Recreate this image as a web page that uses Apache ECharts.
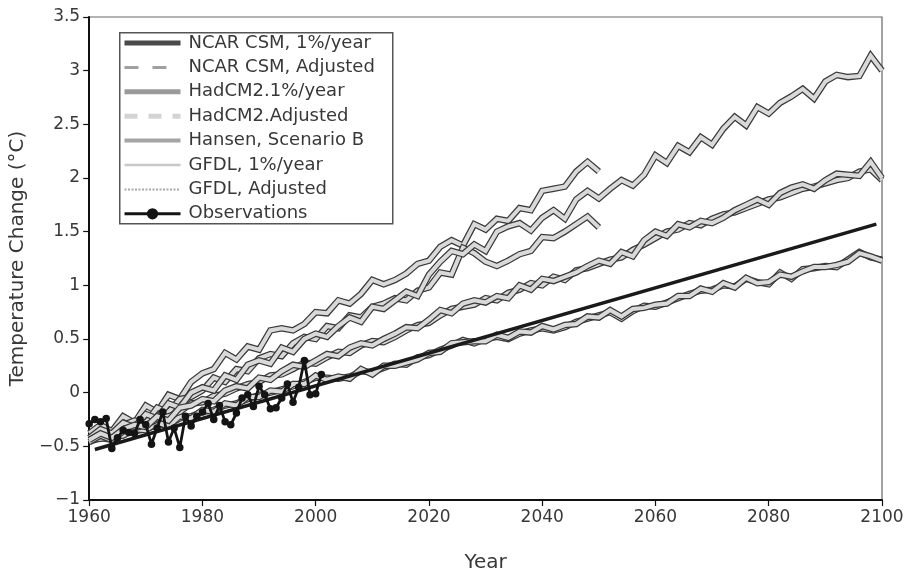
<!DOCTYPE html>
<html><head><meta charset="utf-8">
<script src="https://cdn.jsdelivr.net/npm/echarts@6/dist/echarts.min.js"></script>
<style>html,body{margin:0;padding:0;background:#fff}#c{width:913px;height:578px}</style>
</head><body><div id="c"></div>
<script>
const yearsLong = [1960,1962,1964,1966,1968,1970,1972,1974,1976,1978,
 1980,1982,1984,1986,1988,1990,1992,1994,1996,1998,
 2000,2002,2004,2006,2008,2010,2012,2014,2016,2018,
 2020,2022,2024,2026,2028,2030,2032,2034,2036,2038,
 2040,2042,2044,2046,2048,2050,2052,2054,2056,2058,
 2060,2062,2064,2066,2068,2070,2072,2074,2076,2078,
 2080,2082,2084,2086,2088,2090,2092,2094,2096,2098,
 2100];
const yearsShort = [1960,1962,1964,1966,1968,1970,1972,1974,1976,1978,
 1980,1982,1984,1986,1988,1990,1992,1994,1996,1998,
 2000,2002,2004,2006,2008,2010,2012,2014,2016,2018,
 2020,2022,2024,2026,2028,2030,2032,2034,2036,2038,
 2040,2042,2044,2046,2048,2050];
const yearsObs = [1960,1961,1962,1963,1964,1965,1966,1967,1968,1969,
 1970,1971,1972,1973,1974,1975,1976,1977,1978,1979,
 1980,1981,1982,1983,1984,1985,1986,1987,1988,1989,
 1990,1991,1992,1993,1994,1995,1996,1997,1998,1999,
 2000,2001];

const hadcm2Pct = [-0.38,-0.30,-0.36,-0.22,-0.28,-0.12,-0.18,-0.02,-0.06,0.10,
 0.18,0.22,0.37,0.31,0.43,0.40,0.58,0.60,0.58,0.64,
 0.75,0.74,0.86,0.83,0.92,1.05,1.01,1.05,1.11,1.20,
 1.23,1.36,1.42,1.37,1.57,1.52,1.62,1.60,1.72,1.70,
 1.88,1.90,1.92,2.06,2.15,2.06];
const hadcm2Adj = [-0.42,-0.36,-0.40,-0.30,-0.26,-0.28,-0.14,-0.18,-0.06,-0.04,
 0.02,0.14,0.10,0.22,0.20,0.32,0.36,0.34,0.46,0.52,
 0.50,0.62,0.60,0.72,0.70,0.80,0.83,0.88,0.86,0.95,
 0.98,1.12,1.10,1.35,1.30,1.22,1.18,1.23,1.29,1.32,
 1.45,1.44,1.50,1.57,1.64,1.54];
const gfdlPct = [-0.42,-0.34,-0.38,-0.28,-0.32,-0.20,-0.24,-0.10,-0.14,0.00,
 0.05,0.02,0.16,0.12,0.26,0.30,0.27,0.42,0.38,0.50,
 0.55,0.52,0.62,0.70,0.66,0.80,0.78,0.86,0.94,0.90,
 1.10,1.22,1.32,1.29,1.38,1.32,1.50,1.55,1.58,1.51,
 1.63,1.70,1.62,1.80,1.88,1.81,1.90,1.98,1.93,2.03,
 2.21,2.14,2.30,2.24,2.38,2.31,2.46,2.57,2.49,2.66,
 2.60,2.70,2.76,2.83,2.74,2.90,2.96,2.94,2.95,3.14,
 3.00];
const gfdlAdj = [-0.44,-0.38,-0.42,-0.34,-0.30,-0.32,-0.22,-0.26,-0.14,-0.12,
 -0.06,-0.08,0.02,0.06,0.04,0.14,0.12,0.20,0.26,0.24,
 0.30,0.36,0.34,0.42,0.46,0.44,0.50,0.55,0.61,0.60,
 0.68,0.77,0.74,0.83,0.86,0.84,0.90,0.88,1.00,0.96,
 1.06,1.04,1.08,1.12,1.18,1.23,1.20,1.31,1.27,1.42,
 1.50,1.46,1.57,1.54,1.60,1.58,1.63,1.70,1.75,1.80,
 1.75,1.86,1.91,1.94,1.90,1.98,2.04,2.03,2.02,2.15,
 2.00];
const hansenB = [-0.46,-0.40,-0.44,-0.36,-0.33,-0.30,-0.25,-0.22,-0.18,-0.10,
 -0.09,-0.03,-0.01,0.04,0.08,0.10,0.16,0.17,0.22,0.28,
 0.27,0.33,0.38,0.37,0.44,0.48,0.47,0.52,0.58,0.63,
 0.65,0.72,0.78,0.80,0.82,0.88,0.86,0.93,0.96,1.02,
 1.00,1.08,1.05,1.14,1.16,1.20,1.24,1.26,1.33,1.38,
 1.44,1.50,1.52,1.58,1.56,1.62,1.66,1.68,1.72,1.76,
 1.80,1.82,1.86,1.90,1.92,1.95,1.98,2.00,2.06,2.08,
 1.98];
const ncarPct = [-0.46,-0.42,-0.44,-0.38,-0.36,-0.34,-0.30,-0.30,-0.24,-0.22,
 -0.18,-0.16,-0.12,-0.10,-0.06,-0.02,0.00,0.03,0.06,0.10,
 0.14,0.14,0.13,0.15,0.20,0.19,0.23,0.27,0.26,0.33,
 0.35,0.40,0.44,0.49,0.46,0.50,0.52,0.50,0.55,0.58,
 0.60,0.58,0.61,0.66,0.69,0.72,0.75,0.69,0.76,0.81,
 0.80,0.84,0.88,0.92,0.95,0.96,1.00,0.99,1.06,1.03,
 1.01,1.12,1.06,1.15,1.16,1.18,1.17,1.24,1.31,1.26,
 1.24];
const ncarAdj = [-0.44,-0.43,-0.41,-0.40,-0.34,-0.35,-0.28,-0.31,-0.22,-0.24,
 -0.16,-0.18,-0.10,-0.12,-0.04,-0.04,0.02,0.01,0.08,0.08,
 0.16,0.12,0.15,0.13,0.22,0.17,0.25,0.25,0.28,0.31,
 0.37,0.38,0.46,0.47,0.48,0.48,0.54,0.51,0.57,0.56,
 0.62,0.59,0.63,0.64,0.71,0.70,0.77,0.71,0.78,0.79,
 0.82,0.83,0.90,0.90,0.97,0.94,1.02,0.98,1.07,1.02,
 1.03,1.10,1.08,1.13,1.17,1.17,1.19,1.22,1.30,1.27,
 1.23];
const observations = [-0.29,-0.25,-0.27,-0.24,-0.52,-0.42,-0.35,-0.37,-0.38,-0.25,
 -0.30,-0.48,-0.33,-0.18,-0.46,-0.33,-0.51,-0.22,-0.31,-0.22,
 -0.18,-0.10,-0.25,-0.12,-0.27,-0.30,-0.19,-0.05,-0.02,-0.13,
 0.06,-0.02,-0.15,-0.14,-0.05,0.08,-0.09,0.05,0.30,-0.02,
 -0.01,0.17];
const trendYears = [1961, 2099];
const trendValues = [-0.53, 1.57];

const FONT = 'DejaVu Sans';
const TXT = '#383838';
const pair = (xs, ys) => xs.map((x, i) => [x, ys[i]]);

const models = [
  {name: 'NCAR CSM, 1%/year', years: yearsLong, vals: ncarPct,
   legend: {color: '#4a4a4a', width: 5, type: 'solid'}},
  {name: 'NCAR CSM, Adjusted', years: yearsLong, vals: ncarAdj,
   legend: {color: '#a0a0a0', width: 3, type: [14, 14]}},
  {name: 'HadCM2.1%/year', years: yearsShort, vals: hadcm2Pct,
   legend: {color: '#9a9a9a', width: 5, type: 'solid'}},
  {name: 'HadCM2.Adjusted', years: yearsShort, vals: hadcm2Adj,
   legend: {color: '#d4d4d4', width: 5, type: [13, 11]}},
  {name: 'Hansen, Scenario B', years: yearsLong, vals: hansenB,
   legend: {color: '#a4a4a4', width: 4, type: 'solid'}},
  {name: 'GFDL, 1%/year', years: yearsLong, vals: gfdlPct,
   legend: {color: '#c8c8c8', width: 2.5, type: 'solid'}},
  {name: 'GFDL, Adjusted', years: yearsLong, vals: gfdlAdj,
   legend: {color: '#a8a8a8', width: 2, type: [2, 1.5]}}
];

const series = [];
models.forEach((m, i) => {
  series.push({
    name: '_edge' + i, type: 'line', data: pair(m.years, m.vals),
    symbol: 'none', silent: true, z: 2,
    lineStyle: {color: '#3a3a3a', width: 6.5, join: 'miter'}
  });
  series.push({
    name: m.name, type: 'line', data: pair(m.years, m.vals),
    symbol: 'none', silent: true, z: 2,
    itemStyle: {color: m.legend.color},
    lineStyle: {color: '#d9d9d9', width: 4, join: 'miter'}
  });
});
series.push({
  name: 'Trend', type: 'line', data: pair(trendYears, trendValues),
  symbol: 'none', silent: true, z: 3,
  lineStyle: {color: '#1a1a1a', width: 3.5}
});
series.push({
  name: 'Observations', type: 'line', data: pair(yearsObs, observations),
  symbol: 'circle', symbolSize: 7.5, silent: true, z: 4,
  itemStyle: {color: '#141414'},
  lineStyle: {color: '#141414', width: 2.8}
});

const legendData = models.map(m => ({
  name: m.name, lineStyle: m.legend, itemStyle: {opacity: 0}
}));
legendData.push({name: 'Observations', lineStyle: {color: '#141414', width: 3}});

const chart = echarts.init(document.getElementById('c'), null, {renderer: 'canvas'});
chart.setOption({
  animation: false,
  backgroundColor: '#fff',
  grid: {left: 85, right: 31, top: 17, bottom: 73, show: true,
         borderColor: '#666', borderWidth: 1.2},
  graphic: [{
    type: 'rect', left: 119, top: 32, z: 10,
    shape: {width: 273, height: 191},
    style: {fill: '#fff', stroke: '#555', lineWidth: 1.5}
  }],
  legend: {
    orient: 'vertical', left: 119, top: 31, z: 11,
    padding: [3, 6, 3, 3],
    itemWidth: 56, itemHeight: 14, itemGap: 6.4,
    textStyle: {fontFamily: FONT, fontSize: 18, color: TXT, lineHeight: 14,
                padding: [0, 0, 0, 3]},
    data: legendData, selectedMode: false
  },
  xAxis: {
    type: 'value', min: 1960, max: 2100, interval: 20,
    name: 'Year', nameLocation: 'middle', nameGap: 53,
    nameTextStyle: {fontFamily: FONT, fontSize: 20, color: TXT},
    axisLine: {show: true, onZero: false, lineStyle: {color: '#111', width: 2}},
    axisTick: {show: true, length: 6, lineStyle: {color: '#111', width: 1.2}},
    axisLabel: {fontFamily: FONT, fontSize: 17, color: TXT, margin: 9,
                formatter: v => String(v)},
    splitLine: {show: false}
  },
  yAxis: {
    type: 'value', min: -1, max: 3.5, interval: 0.5,
    name: 'Temperature Change (°C)', nameLocation: 'middle', nameGap: 57,
    nameTextStyle: {fontFamily: FONT, fontSize: 20, color: TXT},
    axisLine: {show: true, onZero: false, lineStyle: {color: '#111', width: 2}},
    axisTick: {show: true, length: 6, lineStyle: {color: '#111', width: 1.2}},
    axisLabel: {fontFamily: FONT, fontSize: 17, color: TXT, margin: 9,
                formatter: v => (v < 0 ? '\u2212' : '') + Math.abs(v)},
    splitLine: {show: false}
  },
  series: series
});
</script>
</body></html>
